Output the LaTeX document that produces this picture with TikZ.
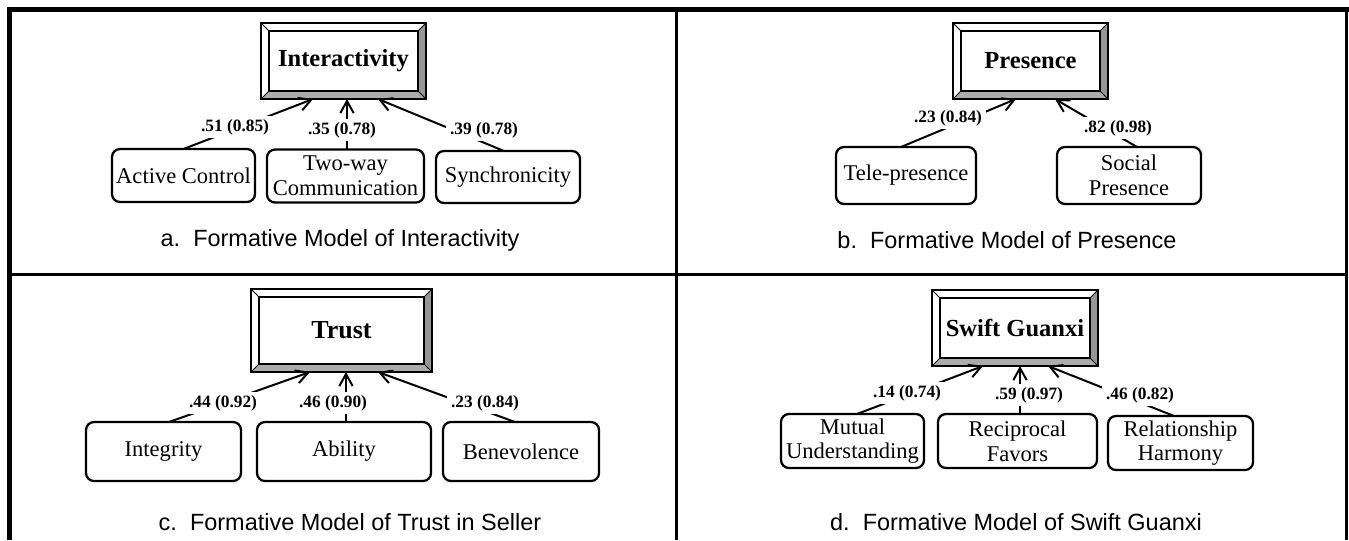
\documentclass[tikz,border=0pt]{standalone}
\usepackage{fontspec}
\setmainfont{Liberation Serif}
\newfontfamily\capfont{Liberation Sans}
\usetikzlibrary{calc,arrows.meta}
\newcommand{\pxl}[1]{#1*0.75pt}
\definecolor{bevR}{RGB}{150,150,150}
\definecolor{bevB}{RGB}{172,172,172}
\newcommand{\bevelbox}[1]{%
  \coordinate (o1) at (#1.north west);
  \coordinate (o2) at (#1.north east);
  \coordinate (o3) at (#1.south east);
  \coordinate (o4) at (#1.south west);
  \coordinate (i1) at ($(o1)+(8,8)$);
  \coordinate (i2) at ($(o2)+(-8,8)$);
  \coordinate (i3) at ($(o3)+(-8,-8)$);
  \coordinate (i4) at ($(o4)+(8,-8)$);
  \fill[bevR] (o2) -- (o3) -- (i3) -- (i2) -- cycle;
  \fill[bevB] (o4) -- (o3) -- (i3) -- (i4) -- cycle;
  \draw[line width=0.7pt] (o1) -- (i1) (o2) -- (i2) (o3) -- (i3) (o4) -- (i4);
  \draw[line width=1.9pt] (o1) rectangle (o3);
  \draw[line width=1.5pt] (i1) rectangle (i3);
}
\begin{document}
\begin{tikzpicture}[x=0.75pt,y=-0.75pt,
  childbox/.style={draw, rounded corners=6pt, line width=1.7pt, align=center,
    inner sep=0pt, outer sep=0pt, font=\fontsize{16.9}{18.5}\selectfont},
  parentbox/.style={inner sep=0pt, outer sep=0pt, font=\fontsize{18.4}{20}\selectfont\bfseries},
  lbl/.style={fill=white, inner xsep=3pt, inner ysep=2pt, font=\fontsize{13}{14}\selectfont\bfseries},
  arr/.style={line width=1.5pt, -{Straight Barb[length=9pt,width=10pt]}},
  captext/.style={font=\capfont\fontsize{17.6}{20}\selectfont}]
\useasboundingbox (0,0) rectangle (1349,540);
\fill[white] (0,0) rectangle (1349,540);
% frame
\draw[line width=3.75pt] (9.5,540) -- (9.5,9.5) -- (1349,9.5);
\draw[line width=2.25pt] (1346.5,9.5) -- (1346.5,540);
\draw[line width=2.6pt] (9.5,274.5) -- (1346.5,274.5);
\draw[line width=2.6pt] (676.5,9.5) -- (676.5,540);

% ---------- panel a ----------
\node[parentbox, minimum width=\pxl{165}, minimum height=\pxl{76}] (int) at (343.5,61) {Interactivity};
\bevelbox{int}
\node[childbox, minimum width=\pxl{143}, minimum height=\pxl{53}] (ac) at (183.5,175.5) {Active Control};
\node[childbox, minimum width=\pxl{157}, minimum height=\pxl{53}] (tw) at (345.5,176) {Two-way\\Communication};
\node[childbox, minimum width=\pxl{144}, minimum height=\pxl{52}] (sy) at (508,177) {Synchronicity};
\draw[arr] (ac.north) -- ($(int.south)+(-30.5,0)$);
\draw[arr] ($(tw.north)+(1.5,0)$) -- ($(int.south)+(3.5,0)$);
\draw[arr] ($(sy.north)+(-4,0)$) -- ($(int.south)+(34.5,0)$);
\node[lbl] (la1) at (235,127) {.51 (0.85)};
\node[lbl] (la2) at (342,130) {.35 (0.78)};
\node[lbl] (la3) at (484,130) {.39 (0.78)};
\node[captext] (capa) at (340,240) {a.\ \ Formative Model of Interactivity};

% ---------- panel b ----------
\node[parentbox, minimum width=\pxl{155}, minimum height=\pxl{76}] (pre) at (1030.5,61) {Presence};
\bevelbox{pre}
\node[childbox, minimum width=\pxl{140}, minimum height=\pxl{57}] (tp) at (906,175.5) {Tele-presence};
\node[childbox, minimum width=\pxl{144}, minimum height=\pxl{57}] (sp) at (1129,175.5) {Social\\Presence};
\draw[arr] ($(tp.north)+(-5,0)$) -- ($(pre.south)+(-14.5,0)$);
\draw[arr] ($(sp.north)+(8,0)$) -- ($(pre.south)+(24.5,0)$);
\node[lbl] (lb1) at (948,118) {.23 (0.84)};
\node[lbl] (lb2) at (1118,128) {.82 (0.98)};
\node[captext] (capb) at (1007,240) {b.\ \ Formative Model of Presence};

% ---------- panel c ----------
\node[parentbox, font=\fontsize{19.5}{21}\selectfont\bfseries, minimum width=\pxl{181}, minimum height=\pxl{83}] (tr) at (341.5,330.5) {Trust};
\bevelbox{tr}
\node[childbox, minimum width=\pxl{155}, minimum height=\pxl{59}] (ig) at (163.5,451.5) {Integrity};
\node[childbox, minimum width=\pxl{174}, minimum height=\pxl{59}] (ab) at (344,451.5) {Ability};
\node[childbox, minimum width=\pxl{156}, minimum height=\pxl{59}] (be) at (521,451.5) {Benevolence};
\draw[arr] ($(ig.north)+(5.5,0)$) -- ($(tr.south)+(-31.5,0)$);
\draw[arr] ($(ab.north)+(2,0)$) -- ($(tr.south)+(4.5,0)$);
\draw[arr] ($(be.north)+(-6,0)$) -- ($(tr.south)+(36.5,0)$);
\node[lbl] (lc1) at (223,403) {.44 (0.92)};
\node[lbl] (lc2) at (333,403) {.46 (0.90)};
\node[lbl] (lc3) at (485,403) {.23 (0.84)};
\node[captext] (capc) at (350,522) {c.\ \ Formative Model of Trust in Seller};

% ---------- panel d ----------
\node[parentbox, minimum width=\pxl{166}, minimum height=\pxl{76}] (sg) at (1015,328) {Swift Guanxi};
\bevelbox{sg}
\node[childbox, minimum width=\pxl{143}, minimum height=\pxl{54}] (mu) at (852.5,441) {Mutual\\Understanding};
\node[childbox, minimum width=\pxl{159}, minimum height=\pxl{54}] (re) at (1017.5,441) {Reciprocal\\Favors};
\node[childbox, minimum width=\pxl{145}, minimum height=\pxl{54}] (rl) at (1180.5,443) {Relationship\\Harmony};
\draw[arr] ($(mu.north)+(4.5,0)$) -- ($(sg.south)+(-32,0)$);
\draw[arr] ($(re.north)+(2.5,0)$) -- ($(sg.south)+(5,0)$);
\draw[arr] ($(rl.north)+(-6.5,0)$) -- ($(sg.south)+(33,0)$);
\node[lbl] (ld1) at (907,393) {.14 (0.74)};
\node[lbl] (ld2) at (1029,395) {.59 (0.97)};
\node[lbl] (ld3) at (1140,395) {.46 (0.82)};
\node[captext] (capd) at (1016,522) {d.\ \ Formative Model of Swift Guanxi};
\end{tikzpicture}
\end{document}
